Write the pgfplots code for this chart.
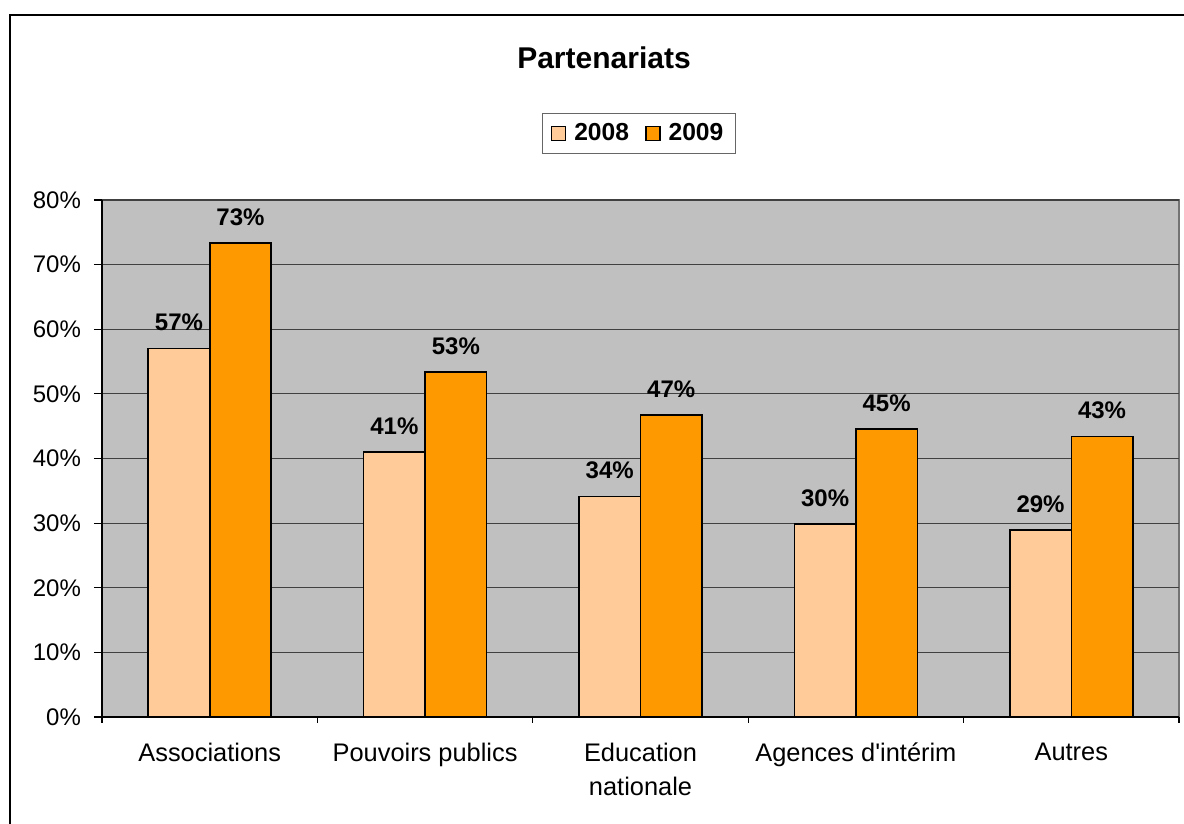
\documentclass[border=0pt]{standalone}
\usepackage{fontspec}
\setmainfont{Liberation Sans}
\usepackage{pgfplots}
\pgfplotsset{compat=1.18}

\definecolor{light}{HTML}{FFCC99}
\definecolor{dark}{HTML}{FF9900}
\definecolor{plotbg}{HTML}{C0C0C0}

\begin{document}
\begin{tikzpicture}

% outer chart frame (only left and top edges fall inside the picture)
\draw[line width=1pt] (5pt,-20pt) -- (5pt,404.5pt) -- (620pt,404.5pt);

\node[font=\bfseries\fontsize{15}{18}\selectfont] at (302pt,383pt) {Partenariats};

\begin{axis}[
  at={(51pt,53.5pt)}, anchor=south west,
  scale only axis,
  width=538.5pt, height=258.5pt,
  ybar=0pt, bar width=30.75pt,
  xmin=0.5, xmax=5.5,
  ymin=0, ymax=80,
  xtick={1,...,5},
  xticklabels={Associations, Pouvoirs publics, {Education\\nationale}, Agences d\textquotesingle intérim, Autres},
  minor xtick={0.5,1.5,...,5.5},
  ytick={0,10,...,80},
  yticklabel={\pgfmathprintnumber{\tick}\%},
  /pgf/number format/assume math mode=true,
  tick align=outside,
  major x tick style={draw=none},
  minor tick length=3pt,
  major tick length=4pt,
  tick style={black, line width=0.6pt},
  axis x line*=bottom, axis y line*=left,
  axis line style={black, line width=0.8pt, -},
  axis background/.style={fill=plotbg, draw=gray!90!black, line width=0.8pt},
  ymajorgrids,
  grid style={black!75, line width=0.6pt},
  yticklabel style={font=\fontsize{12}{17}\selectfont, xshift=-3pt},
  xticklabel style={font=\fontsize{12.7}{17}\selectfont, align=center, yshift=-5.5pt},
  nodes near coords={\pgfmathprintnumber[fixed,precision=0]{\pgfplotspointmeta}\%},
  every node near coord/.append style={font=\bfseries\fontsize{12}{14}\selectfont, yshift=5pt, black},
  legend style={at={(0.4986,1.1286)}, anchor=center, draw=gray!80!black, line width=0.6pt,
    font=\bfseries\fontsize{12.3}{14}\selectfont, legend columns=2,
    inner xsep=4pt, inner ysep=3pt,
    /tikz/every odd column/.append style={column sep=2pt},
    /tikz/every even column/.append style={column sep=6pt}},
  legend image code/.code={\draw[#1] (0pt,-3.5pt) rectangle (7pt,3.5pt);},
]

\addplot[fill=light, draw=black, line width=0.8pt] coordinates {
  (1,57.0) (2,41.0) (3,34.1) (4,29.9) (5,28.9)
};
\addplot[fill=dark, draw=black, line width=0.8pt] coordinates {
  (1,73.3) (2,53.4) (3,46.7) (4,44.6) (5,43.4)
};
\legend{2008, 2009}

\end{axis}

\pgfresetboundingbox
\useasboundingbox (0,0) rectangle (592pt,412pt);
\end{tikzpicture}
\end{document}
